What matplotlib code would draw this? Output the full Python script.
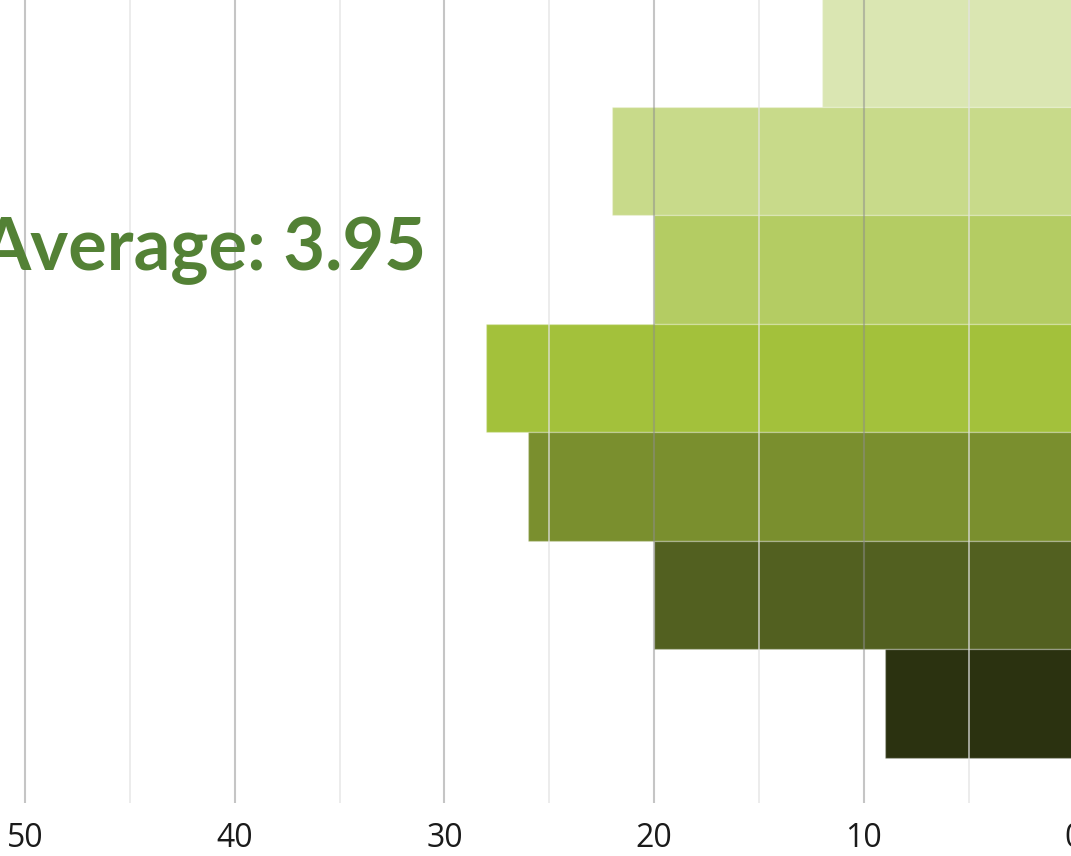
#!/usr/bin/env python3
"""Horizontal rating distribution with average label."""

import matplotlib.pyplot as plt
import numpy as np
from matplotlib.ticker import MultipleLocator

ratings = [1, 2, 3, 4, 5, 6, 7]
counts = [12, 22, 20, 28, 26, 20, 9]
bar_colors = ["#dae6b2", "#c8da8a", "#b4cc63", "#a3c13b", "#7a8f2e", "#526020", "#2b3210"]
tick_values = [0, 10, 20, 30, 40, 50]

avg = np.dot(ratings, counts) / np.sum(counts)

W, H = 1071, 856
px_per_unit = 20.97
axes_w_px = 1085  # axes runs a bit past the right edge, like the cropped original

fig = plt.figure(figsize=(W / 100, H / 100), dpi=100)
ax = fig.add_axes([0.0, 1 - 803 / H, axes_w_px / W, 803 / H])

y = np.arange(len(ratings))
ax.barh(y, counts, height=1.0, color=bar_colors,
        edgecolor=(1, 1, 1, 0.25), linewidth=1.0, zorder=1)

x_left = 50 + 25 / px_per_unit
ax.set_xlim(x_left, x_left - axes_w_px / px_per_unit)
ax.set_ylim(6.915, -0.486)

ax.set_xticks(tick_values)
ax.set_xticklabels([str(v) for v in tick_values], fontsize=23,
                   family=["Open Sans", "DejaVu Sans"], color="#1a1a1a")
ax.xaxis.set_minor_locator(MultipleLocator(5))
ax.set_yticks([])
ax.tick_params(axis="x", which="both", length=0, pad=14)

ax.grid(True, axis="x", which="major", color="#8c8c8c", alpha=0.5, linewidth=1.5, zorder=3)
ax.grid(True, axis="x", which="minor", color="#e2e2e2", alpha=0.65, linewidth=1.4, zorder=3)
ax.set_axisbelow(False)
for s in ax.spines.values():
    s.set_visible(False)

fig.text(427 / W, 1 - 270 / H, f"Average: {avg:.2f}",
         ha="right", va="baseline", fontsize=52, fontweight="bold",
         family=["Lato", "DejaVu Sans"], color="#538135")

fig.savefig("out.png", dpi=100)
